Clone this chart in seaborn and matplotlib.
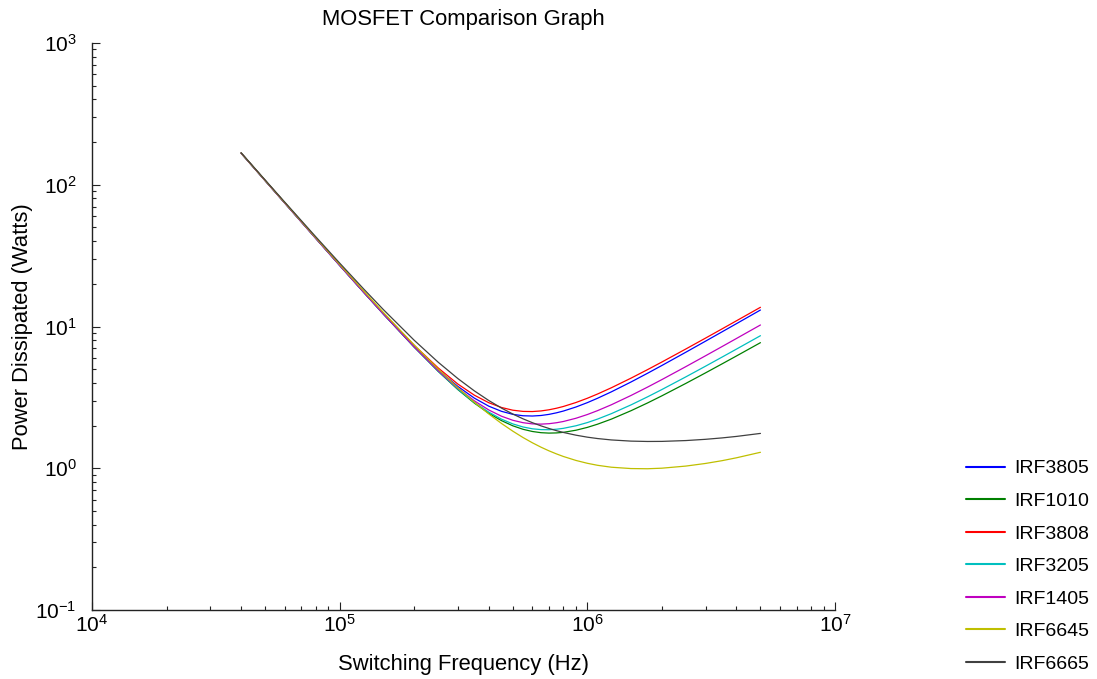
import numpy as np
import pandas as pd
import matplotlib
matplotlib.use("Agg")
import matplotlib.pyplot as plt
import seaborn as sns

# Frequencies (Hz) the curves were read at
freq = [4e4, 5e4, 6e4, 8e4, 1e5, 1.25e5, 1.5e5, 2e5, 2.5e5, 3e5, 3.5e5, 4e5, 4.5e5, 5e5,
        5.5e5, 6e5, 6.5e5, 7e5, 7.5e5, 8e5, 9e5, 1e6, 1.1e6, 1.25e6, 1.5e6, 1.75e6,
        2e6, 2.5e6, 3e6, 3.5e6, 4e6, 5e6]

# Power dissipated (W)
irf3805 = [167.0, 107.0, 74.36, 41.96, 26.99, 17.45, 12.29, 7.226, 4.954, 3.779, 3.122, 2.741,
           2.522, 2.401, 2.346, 2.336, 2.356, 2.399, 2.460, 2.532, 2.705, 2.903, 3.118, 3.459,
           4.058, 4.678, 5.309, 6.588, 7.878, 9.173, 10.47, 13.07]
irf1010 = [167.1, 107.0, 74.43, 42.01, 27.02, 17.45, 12.27, 7.149, 4.821, 3.591, 2.879, 2.443,
           2.168, 1.993, 1.883, 1.817, 1.782, 1.770, 1.775, 1.792, 1.855, 1.942, 2.046, 2.221,
           2.545, 2.888, 3.243, 3.970, 4.707, 5.450, 6.195, 7.690]
irf3808 = [167.2, 107.1, 74.48, 42.09, 27.12, 17.58, 12.43, 7.365, 5.097, 3.927, 3.275, 2.899,
           2.684, 2.568, 2.518, 2.512, 2.537, 2.585, 2.650, 2.727, 2.910, 3.117, 3.341, 3.696,
           4.319, 4.962, 5.617, 6.943, 8.280, 9.622, 10.97, 13.66]
irf3205 = [167.1, 107.0, 74.41, 42.00, 27.01, 17.44, 12.27, 7.154, 4.836, 3.616, 2.913, 2.487,
           2.221, 2.055, 1.955, 1.898, 1.873, 1.870, 1.885, 1.912, 1.994, 2.100, 2.223, 2.427,
           2.798, 3.189, 3.592, 4.414, 5.247, 6.085, 6.926, 8.612]
irf1405 = [167.1, 107.0, 74.39, 41.98, 27.00, 17.44, 12.27, 7.178, 4.876, 3.673, 2.987, 2.578,
           2.329, 2.180, 2.096, 2.056, 2.048, 2.062, 2.094, 2.137, 2.253, 2.393, 2.550, 2.804,
           3.260, 3.735, 4.222, 5.213, 6.214, 7.221, 8.230, 10.25]
irf6645 = [167.6, 107.5, 74.88, 42.43, 27.41, 17.81, 12.59, 7.398, 5.001, 3.702, 2.921, 2.416,
           2.071, 1.827, 1.647, 1.512, 1.408, 1.327, 1.263, 1.211, 1.135, 1.084, 1.049, 1.017,
           0.995, 0.992, 1.001, 1.036, 1.081, 1.131, 1.185, 1.296]
irf6665 = [168.2, 108.1, 75.48, 43.03, 28.01, 18.40, 13.18, 7.993, 5.595, 4.294, 3.512, 3.005,
           2.659, 2.413, 2.232, 2.096, 1.991, 1.908, 1.842, 1.789, 1.711, 1.657, 1.620, 1.584,
           1.554, 1.545, 1.547, 1.568, 1.600, 1.637, 1.677, 1.761]

names = ["IRF3805", "IRF1010", "IRF3808", "IRF3205", "IRF1405", "IRF6645", "IRF6665"]
series = [irf3805, irf1010, irf3808, irf3205, irf1405, irf6645, irf6665]
colors = ["#0000ff", "#008000", "#ff0000", "#00bfbf", "#bf00bf", "#bfbf00", "#404040"]

df = pd.concat([pd.DataFrame({"freq": freq, "power": s, "part": n})
                for n, s in zip(names, series)], ignore_index=True)

sns.set_style("ticks")
plt.rcParams["font.family"] = ["Liberation Sans", "DejaVu Sans"]
plt.rcParams["mathtext.fontset"] = "custom"
plt.rcParams["mathtext.rm"] = "Liberation Sans"
plt.rcParams["text.color"] = "black"
plt.rcParams["axes.labelcolor"] = "black"

fig = plt.figure(figsize=(10.97, 6.79), dpi=100)
ax = fig.add_axes([92 / 1097, 1 - 610 / 679, (835 - 92) / 1097, (610 - 43) / 679])

sns.lineplot(data=df, x="freq", y="power", hue="part", hue_order=names,
             palette=dict(zip(names, colors)), linewidth=0.9, ax=ax, legend=False)

ax.set_xscale("log")
ax.set_yscale("log")
ax.set_xlim(1e4, 1e7)
ax.set_ylim(1e-1, 1e3)

sns.despine(ax=ax)
for sp in ["left", "bottom"]:
    ax.spines[sp].set_color("#222222")
    ax.spines[sp].set_linewidth(1.0)

ax.tick_params(which="major", direction="in", length=5.8, width=0.8, labelsize=15,
               colors="#222222", labelcolor="black")
ax.tick_params(which="minor", direction="in", length=2.9, width=0.8, colors="#222222")
ax.tick_params(axis="y", which="major", pad=11)
ax.tick_params(axis="x", which="major", pad=3)

ax.set_title("MOSFET Comparison Graph", fontsize=15.8, pad=13, color="black")
ax.set_xlabel("Switching Frequency (Hz)", fontsize=15.8, labelpad=13)
ax.set_ylabel("Power Dissipated (Watts)", fontsize=15.8, labelpad=2)

handles = [plt.Line2D([], [], color=c, lw=1.5) for c in colors]
fig.legend(handles, names, loc="center", bbox_to_anchor=(0.937, 0.166), frameon=False,
           fontsize=14, handlelength=2.0, handletextpad=0.5, labelspacing=0.77)

fig.savefig("out.png", dpi=100)
